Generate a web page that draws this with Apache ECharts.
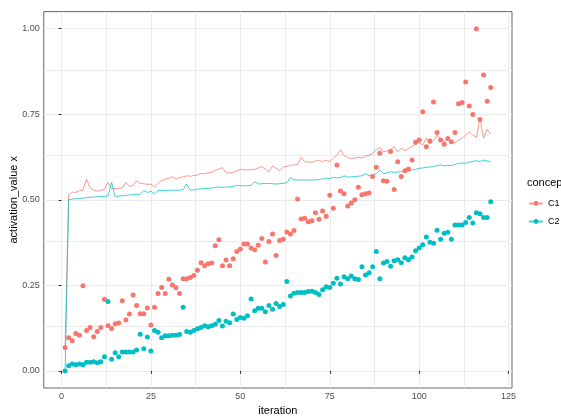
<!DOCTYPE html>
<html>
<head>
<meta charset="utf-8">
<script src="https://cdn.jsdelivr.net/npm/echarts@6/dist/echarts.min.js"></script>
<style>
  html, body { margin: 0; padding: 0; background: #ffffff; }
  #chart { width: 561px; height: 418px; }
</style>
</head>
<body>
<div id="chart"></div>
<script>
// Concept names
const concepts = ['C1', 'C2'];

// Per-iteration activation value (points), iterations 1..120
const c1Points = [
  0.068, 0.097, 0.088, 0.109, 0.104, 0.249, 0.118, 0.127, 0.100, 0.115,
  0.127, 0.209, 0.132, 0.124, 0.138, 0.140, 0.205, 0.149, 0.166, 0.222,
  0.191, 0.167, 0.167, 0.184, 0.134, 0.186, 0.226, 0.244, 0.226, 0.268,
  0.251, 0.243, 0.226, 0.269, 0.269, 0.273, 0.279, 0.294, 0.316, 0.307,
  0.313, 0.315, 0.366, 0.383, 0.307, 0.324, 0.307, 0.328, 0.349, 0.356,
  0.371, 0.371, 0.359, 0.354, 0.367, 0.387, 0.318, 0.378, 0.400, 0.337,
  0.381, 0.385, 0.406, 0.400, 0.410, 0.502, 0.444, 0.446, 0.436, 0.439,
  0.462, 0.443, 0.467, 0.452, 0.513, 0.475, 0.602, 0.526, 0.518, 0.482,
  0.491, 0.500, 0.537, 0.515, 0.518, 0.520, 0.568, 0.595, 0.636, 0.556,
  0.554, 0.641, 0.530, 0.611, 0.568, 0.585, 0.590, 0.616, 0.668, 0.675,
  0.757, 0.655, 0.672, 0.786, 0.697, 0.675, 0.662, 0.679, 0.670, 0.697,
  0.781, 0.784, 0.844, 0.774, 0.749, 1.000, 0.735, 0.865, 0.788, 0.828
];
const c2Points = [
  0.000, 0.015, 0.020, 0.018, 0.020, 0.018, 0.025, 0.025, 0.027, 0.024,
  0.027, 0.041, 0.203, 0.034, 0.053, 0.041, 0.055, 0.055, 0.055, 0.055,
  0.061, 0.107, 0.065, 0.099, 0.058, 0.118, 0.113, 0.097, 0.103, 0.103,
  0.104, 0.104, 0.106, 0.186, 0.115, 0.113, 0.118, 0.123, 0.127, 0.132,
  0.129, 0.132, 0.136, 0.147, 0.131, 0.145, 0.141, 0.166, 0.150, 0.156,
  0.154, 0.161, 0.210, 0.176, 0.183, 0.183, 0.173, 0.191, 0.180, 0.197,
  0.188, 0.194, 0.261, 0.219, 0.227, 0.229, 0.229, 0.229, 0.232, 0.233,
  0.229, 0.223, 0.237, 0.246, 0.244, 0.256, 0.271, 0.254, 0.275, 0.269,
  0.277, 0.269, 0.267, 0.304, 0.280, 0.287, 0.304, 0.349, 0.269, 0.315,
  0.320, 0.306, 0.322, 0.325, 0.316, 0.331, 0.325, 0.333, 0.351, 0.359,
  0.369, 0.391, 0.376, 0.373, 0.411, 0.385, 0.402, 0.405, 0.385, 0.426,
  0.426, 0.426, 0.434, 0.448, 0.432, 0.462, 0.459, 0.448, 0.448, 0.494
];

// Per-iteration activation value (lines), iterations 1..120
const c1Line = [
  0.070, 0.515, 0.522, 0.522, 0.527, 0.528, 0.560, 0.535, 0.528, 0.525,
  0.527, 0.531, 0.551, 0.532, 0.533, 0.534, 0.534, 0.551, 0.539, 0.542,
  0.556, 0.548, 0.547, 0.545, 0.546, 0.537, 0.548, 0.556, 0.561, 0.562,
  0.568, 0.560, 0.565, 0.567, 0.570, 0.569, 0.571, 0.572, 0.577, 0.576,
  0.579, 0.580, 0.586, 0.590, 0.594, 0.579, 0.578, 0.580, 0.585, 0.589,
  0.588, 0.587, 0.588, 0.589, 0.593, 0.597, 0.590, 0.582, 0.599, 0.592,
  0.585, 0.596, 0.597, 0.601, 0.602, 0.603, 0.624, 0.611, 0.610, 0.610,
  0.613, 0.616, 0.611, 0.616, 0.611, 0.622, 0.630, 0.646, 0.630, 0.624,
  0.620, 0.622, 0.625, 0.622, 0.628, 0.630, 0.636, 0.646, 0.653, 0.640,
  0.643, 0.647, 0.655, 0.640, 0.650, 0.643, 0.650, 0.656, 0.663, 0.667,
  0.660, 0.680, 0.663, 0.673, 0.689, 0.677, 0.671, 0.679, 0.665, 0.667,
  0.674, 0.680, 0.689, 0.699, 0.689, 0.682, 0.737, 0.680, 0.706, 0.692
];
const c2Line = [
  0.000, 0.500, 0.502, 0.503, 0.504, 0.505, 0.506, 0.507, 0.508, 0.509,
  0.510, 0.510, 0.511, 0.551, 0.509, 0.511, 0.512, 0.513, 0.514, 0.515,
  0.516, 0.516, 0.527, 0.521, 0.525, 0.517, 0.527, 0.528, 0.527, 0.528,
  0.528, 0.528, 0.528, 0.530, 0.546, 0.528, 0.529, 0.531, 0.532, 0.533,
  0.533, 0.535, 0.536, 0.538, 0.536, 0.537, 0.538, 0.539, 0.542, 0.541,
  0.541, 0.541, 0.542, 0.553, 0.546, 0.547, 0.548, 0.548, 0.547, 0.546,
  0.547, 0.548, 0.550, 0.565, 0.558, 0.558, 0.558, 0.558, 0.558, 0.558,
  0.558, 0.559, 0.561, 0.563, 0.562, 0.566, 0.564, 0.565, 0.570, 0.566,
  0.567, 0.568, 0.569, 0.570, 0.576, 0.570, 0.573, 0.576, 0.587, 0.576,
  0.579, 0.582, 0.580, 0.581, 0.582, 0.585, 0.585, 0.587, 0.589, 0.592,
  0.593, 0.595, 0.596, 0.597, 0.600, 0.602, 0.599, 0.601, 0.600, 0.603,
  0.607, 0.607, 0.607, 0.610, 0.612, 0.614, 0.612, 0.616, 0.614, 0.611
];

// Axis tick labels (major) and the minor grid positions between them
const xTicks = [0, 25, 50, 75, 100, 125];
const yTicks = [0, 0.25, 0.5, 0.75, 1.0];
const xMinor = [12.5, 37.5, 62.5, 87.5, 112.5];
const yMinor = [0.125, 0.375, 0.625, 0.875];

const colors = { C1: '#F8766D', C2: '#00BFC4' };
const gridColor = '#EBEBEB';

function pairs(values) {
  return values.map((v, i) => [i + 1, v]);
}

const chart = echarts.init(document.getElementById('chart'), null, { renderer: 'canvas' });

const lineSeries = (name, values) => ({
  name: name,
  type: 'line',
  data: pairs(values),
  symbol: 'circle',
  showSymbol: false,
  itemStyle: { color: colors[name] },
  lineStyle: { color: colors[name], width: 1, opacity: 0.75 },
  emphasis: { disabled: true },
  silent: true,
  z: 3
});
const pointSeries = (name, values) => ({
  name: name,
  type: 'scatter',
  data: pairs(values),
  symbol: 'circle',
  symbolSize: 5,
  itemStyle: { color: colors[name], opacity: 1 },
  emphasis: { disabled: true },
  silent: true,
  z: 4
});

// Minor grid lines, drawn as mark lines behind the data
const minorGrid = {
  type: 'scatter',
  data: [],
  silent: true,
  z: 0,
  markLine: {
    silent: true,
    z: 0,
    symbol: 'none',
    label: { show: false },
    lineStyle: { color: gridColor, type: 'solid', width: 1 },
    emphasis: { disabled: true },
    animation: false,
    data: xMinor.map(v => ({ xAxis: v })).concat(yMinor.map(v => ({ yAxis: v })))
  }
};

const font = 'Liberation Sans, Arial, sans-serif';

chart.setOption({
  animation: false,
  backgroundColor: '#ffffff',
  grid: {
    left: 43.8, right: 49, top: 11.6, bottom: 30,
    containLabel: false,
    outerBoundsMode: 'none',
    show: true, borderColor: '#666666', borderWidth: 1, backgroundColor: 'transparent'
  },
  xAxis: {
    type: 'value',
    min: -4.95, max: 125.95,
    interval: 12.5,
    name: 'iteration',
    nameLocation: 'middle',
    nameGap: 15,
    nameTextStyle: { color: '#000', fontSize: 11, fontFamily: font },
    axisLine: { show: false },
    axisTick: { show: true, customValues: xTicks, length: 3, lineStyle: { color: '#333' } },
    axisLabel: { customValues: xTicks, color: '#4D4D4D', fontSize: 9, fontFamily: font, margin: 4 },
    splitLine: { show: true, lineStyle: { color: gridColor, width: 1 } }
  },
  yAxis: {
    type: 'value',
    min: -0.05, max: 1.05,
    interval: 0.125,
    name: 'activation_value x',
    nameLocation: 'middle',
    nameRotate: 90,
    nameGap: 24,
    nameMoveOverlap: false,
    nameTextStyle: { color: '#000', fontSize: 11, fontFamily: font },
    axisLine: { show: false },
    axisTick: { show: true, customValues: yTicks, length: 3, lineStyle: { color: '#333' } },
    axisLabel: {
      customValues: yTicks, color: '#4D4D4D', fontSize: 9, fontFamily: font, margin: 4,
      formatter: v => v.toFixed(2)
    },
    splitLine: { show: true, lineStyle: { color: gridColor, width: 1 } }
  },
  legend: {
    data: concepts,
    orient: 'vertical',
    left: 528,
    top: 199,
    padding: 0,
    itemWidth: 14,
    itemHeight: 6,
    itemGap: 9,
    textStyle: { color: '#000', fontSize: 9, fontFamily: font, overflow: 'none' },
    selectedMode: false
  },
  graphic: [{
    type: 'text',
    left: 527,
    top: 177,
    style: { text: 'concept', fill: '#000', font: '11px ' + font }
  }],
  series: [
    minorGrid,
    lineSeries('C1', c1Line),
    lineSeries('C2', c2Line),
    pointSeries('C1', c1Points),
    pointSeries('C2', c2Points)
  ]
});
</script>
</body>
</html>
